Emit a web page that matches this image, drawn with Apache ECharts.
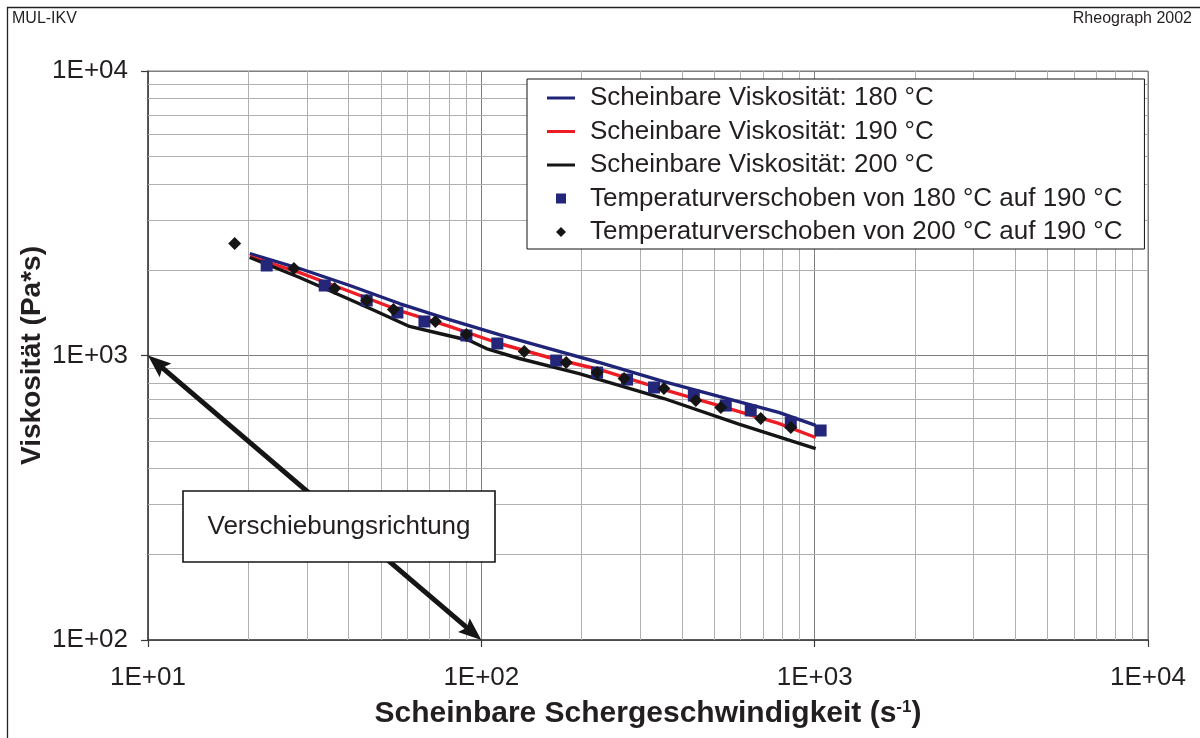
<!DOCTYPE html>
<html>
<head>
<meta charset="utf-8">
<script src="https://cdn.jsdelivr.net/npm/echarts@6/dist/echarts.min.js"></script>
<style>
html,body{margin:0;padding:0;background:#fff;}
#chart{width:1200px;height:738px;}
</style>
</head>
<body>
<div id="chart"></div>
<script>
// ---------- data ----------
const seriesNames = [
  'Scheinbare Viskosität: 180 °C',
  'Scheinbare Viskosität: 190 °C',
  'Scheinbare Viskosität: 200 °C',
  'Temperaturverschoben von 180 °C auf 190 °C',
  'Temperaturverschoben von 200 °C auf 190 °C'
];
// measured curves (shear rate 1/s, viscosity Pa*s)
const shearRate = [20.2, 28.5, 40.3, 56.8, 80.2, 113.2, 159.8, 225.6, 353.1, 516, 780, 1007];
const visc180 = [2283, 2022, 1762, 1523, 1338, 1185, 1058, 945, 810, 718, 631, 568];
const visc190 = [2228, 1957, 1679, 1439, 1265, 1102, 984, 893, 759, 667, 577, 515];
const shearRate200 = [20.2, 28.5, 40.3, 47.8, 60.9, 74.9, 92.1, 103.5, 130, 196.6, 353.1, 592.3, 1007];
const visc200 = [2210, 1880, 1574, 1439, 1265, 1195, 1129, 1058, 976, 864, 706, 574, 471];
// temperature-shifted points
const shift180Shear = [22.7, 33.9, 45.3, 56.0, 67.5, 90.2, 111.7, 167.7, 222.5, 273.6, 329.6, 434, 541, 643, 848, 1042];
const shift180Visc  = [2072, 1762, 1561, 1416, 1317, 1176, 1102, 960, 871, 823, 772, 723, 667, 641, 581, 545];
const shift200Shear = [18.2, 27.4, 36.3, 45.3, 54.5, 72.8, 90.2, 134.5, 179.7, 222.5, 268, 353, 440, 523, 689, 848];
const shift200Visc  = [2476, 2022, 1720, 1561, 1451, 1317, 1185, 1033, 945, 871, 830, 766, 695, 656, 601, 558];
// axes
const xTickLabels = ['1E+01', '1E+02', '1E+03', '1E+04'];
const yTickLabels = ['1E+02', '1E+03', '1E+04'];
const xMinorGrid = [20,30,40,50,60,70,80,90,200,300,400,500,600,700,800,900,2000,3000,4000,5000,6000,7000,8000,9000];
const yMinorGrid = [200,300,400,500,600,700,800,900,2000,3000,4000,5000,6000,7000,8000,9000];
// shift direction arrow (from, to) in data values
const arrowFrom = [10, 1000];
const arrowTo = [100, 100];
const annotationText = 'Verschiebungsrichtung';

// ---------- chart ----------
const FONT = '"Liberation Sans", Arial, Helvetica, sans-serif';
const TXT = '#231f20';
const zip = (a, b) => a.map((v, i) => [v, b[i]]);

const chart = echarts.init(document.getElementById('chart'), null, {renderer: 'canvas'});

const option = {
  animation: false,
  backgroundColor: '#ffffff',
  title: [
    {text: 'MUL-IKV', left: 12, top: 11, padding: 0,
     textStyle: {fontFamily: FONT, fontSize: 16, fontWeight: 'normal', color: TXT}},
    {text: 'Rheograph 2002', right: 8, top: 11, padding: 0,
     textStyle: {fontFamily: FONT, fontSize: 16, fontWeight: 'normal', color: TXT}}
  ],
  grid: {left: 148, right: 52, top: 71, bottom: 98, show: true,
         borderColor: '#7a7a7a', borderWidth: 1, backgroundColor: 'transparent'},
  legend: {
    data: [
      {name: seriesNames[0], icon: 'path://M0,0H28V3H0Z'},
      {name: seriesNames[1], icon: 'path://M0,0H28V3H0Z'},
      {name: seriesNames[2], icon: 'path://M0,0H28V3H0Z'},
      {name: seriesNames[3], icon: 'path://M0,0H10V10H0Z'},
      {name: seriesNames[4], icon: 'path://M5,0L10,5L5,10L0,5Z'}
    ],
    orient: 'vertical', left: 527, top: 79,
    itemWidth: 28, itemHeight: 10, itemGap: 7.5, symbolKeepAspect: true,
    padding: [6, 22, 4, 20],
    backgroundColor: '#ffffff', borderColor: '#111111', borderWidth: 1, borderRadius: 0,
    selectedMode: false,
    textStyle: {fontFamily: FONT, fontSize: 26, color: TXT, lineHeight: 26, padding: [0, 0, 0, 10]},
    z: 10
  },
  xAxis: {
    type: 'log', logBase: 10, min: 10, max: 10000,
    name: 'Scheinbare Schergeschwindigkeit (s{sup|-1})',
    nameLocation: 'middle', nameGap: 59,
    nameTextStyle: {fontFamily: FONT, fontSize: 30, fontWeight: 'bold', color: TXT,
      rich: {sup: {fontFamily: FONT, fontSize: 17, fontWeight: 'bold', color: TXT, verticalAlign: 'top', padding: [0, 0, 10, 0]}}},
    axisLine: {show: true, lineStyle: {color: '#3a3a3a', width: 1.5}},
    axisTick: {show: true, inside: false, length: 7, lineStyle: {color: '#3a3a3a', width: 1.2}},
    axisLabel: {fontFamily: FONT, fontSize: 26, color: TXT, margin: 25,
      formatter: v => xTickLabels[Math.round(Math.log10(v)) - 1]},
    splitLine: {show: true, lineStyle: {color: '#7f7f7f', width: 1}},
    minorTick: {show: false}, minorSplitLine: {show: false}
  },
  yAxis: {
    type: 'log', logBase: 10, min: 100, max: 10000,
    name: 'Viskosität (Pa*s)',
    nameLocation: 'middle', nameGap: 102, nameMoveOverlap: false,
    nameTextStyle: {fontFamily: FONT, fontSize: 28, fontWeight: 'bold', color: TXT},
    axisLine: {show: true, lineStyle: {color: '#3a3a3a', width: 1.5}},
    axisTick: {show: true, inside: false, length: 7, lineStyle: {color: '#3a3a3a', width: 1.2}},
    axisLabel: {fontFamily: FONT, fontSize: 26, color: TXT, margin: 20,
      formatter: v => yTickLabels[Math.round(Math.log10(v)) - 2]},
    splitLine: {show: true, lineStyle: {color: '#7f7f7f', width: 1}},
    minorTick: {show: false}, minorSplitLine: {show: false}
  },
  series: [
    {
      name: 'minorGrid', type: 'line', data: [], silent: true,
      markLine: {
        silent: true, z: 1, symbol: ['none', 'none'], animation: false,
        label: {show: false}, emphasis: {disabled: true},
        lineStyle: {type: 'solid', color: '#b0b0b0', width: 1},
        data: xMinorGrid.map(v => ({xAxis: v})).concat(yMinorGrid.map(v => ({yAxis: v})))
      }
    },
    {name: seriesNames[0], type: 'line', color: '#202478', symbol: 'none', z: 3,
     lineStyle: {width: 3.4, color: '#202478'}, data: zip(shearRate, visc180)},
    {name: seriesNames[1], type: 'line', color: '#ee1c24', symbol: 'none', z: 3,
     lineStyle: {width: 3.4, color: '#ee1c24'}, data: zip(shearRate, visc190)},
    {name: seriesNames[2], type: 'line', color: '#151515', symbol: 'none', z: 3,
     lineStyle: {width: 3.4, color: '#151515'}, data: zip(shearRate200, visc200)},
    {name: seriesNames[3], type: 'scatter', color: '#24267a', symbol: 'rect', symbolSize: 12, z: 4,
     itemStyle: {color: '#24267a', opacity: 1}, data: zip(shift180Shear, shift180Visc)},
    {name: seriesNames[4], type: 'scatter', color: '#151515', symbol: 'diamond', symbolSize: 13, z: 5,
     itemStyle: {color: '#151515', opacity: 1}, data: zip(shift200Shear, shift200Visc)}
  ]
};
chart.setOption(option);

// ---------- annotation: double-headed arrow placed through the axes' scales ----------
const p1 = chart.convertToPixel({gridIndex: 0}, arrowFrom);
const p2 = chart.convertToPixel({gridIndex: 0}, arrowTo);
const dx = p2[0] - p1[0], dy = p2[1] - p1[1];
const len = Math.sqrt(dx * dx + dy * dy);
const ux = dx / len, uy = dy / len;       // unit direction p1 -> p2
const nx = -uy, ny = ux;                  // normal
const HL = 23, HW = 9, NOTCH = 4;
function head(tip, sx, sy) {
  // sx,sy: unit vector pointing from the tip back along the shaft
  const bx = tip[0] + sx * HL, by = tip[1] + sy * HL;
  return [
    [tip[0], tip[1]],
    [bx + nx * HW, by + ny * HW],
    [tip[0] + sx * (HL - NOTCH), tip[1] + sy * (HL - NOTCH)],
    [bx - nx * HW, by - ny * HW]
  ];
}
chart.setOption({
  graphic: [
    {id: 'frame', type: 'rect', silent: true, z: 0,
     shape: {x: 7.5, y: 7.5, width: 1205, height: 745},
     style: {fill: 'none', stroke: '#222', lineWidth: 1.3}},
    {id: 'arrowShaft', type: 'line', silent: true, z: 50,
     shape: {x1: p1[0] + ux * (HL - 6), y1: p1[1] + uy * (HL - 6),
             x2: p2[0] - ux * (HL - 6), y2: p2[1] - uy * (HL - 6)},
     style: {stroke: '#151515', lineWidth: 5}},
    {id: 'arrowHead1', type: 'polygon', silent: true, z: 51,
     shape: {points: head(p1, ux, uy)}, style: {fill: '#151515'}},
    {id: 'arrowHead2', type: 'polygon', silent: true, z: 51,
     shape: {points: head(p2, -ux, -uy)}, style: {fill: '#151515'}},
    {id: 'noteBox', type: 'rect', silent: true, z: 100,
     shape: {x: 183, y: 491, width: 312, height: 71},
     style: {fill: '#ffffff', stroke: '#151515', lineWidth: 1.6}},
    {id: 'noteText', type: 'text', silent: true, z: 101, x: 339, y: 527,
     style: {text: annotationText, fontFamily: FONT, fontSize: 26, fill: TXT,
             textAlign: 'center', textVerticalAlign: 'middle'}}
  ]
});
</script>
</body>
</html>
